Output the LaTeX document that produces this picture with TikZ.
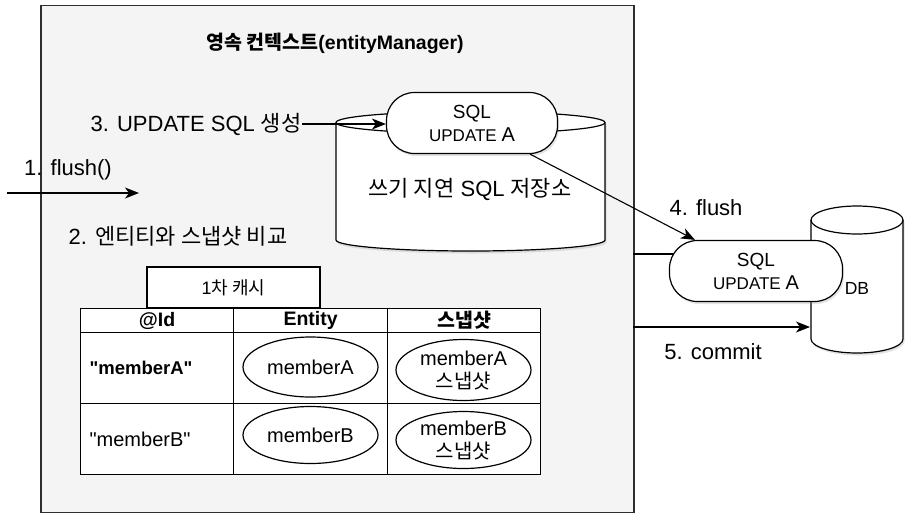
\documentclass[tikz,border=0pt]{standalone}
\usepackage{fontspec}
\setmainfont{Liberation Sans}
\newfontfamily\kr{Noto Sans CJK KR}
\newcommand\kor[1]{{\kr #1}}
\usetikzlibrary{arrows.meta,shapes.geometric,shadows}
\definecolor{bgc}{HTML}{F4F4F4}
\definecolor{framec}{HTML}{2E2E2E}
\begin{document}
\begin{tikzpicture}[x=1pt,y=-1pt,
  line width=1.1pt,
  every node/.style={inner sep=0pt},
  shade3/.style={drop shadow={shadow xshift=1.5pt,shadow yshift=-2.5pt,opacity=0.22}},
  arr/.style={-{Stealth[length=14pt,width=11pt,inset=4pt]}, line width=1.1pt},
  cell/.style={draw, fill=white, line width=1.2pt, anchor=north west, font=\fontsize{19.5}{22}\selectfont},
  idcell/.style={cell, inner xsep=9pt, text width=135pt, align=left, minimum width=153pt, minimum height=71pt},
  pill/.style={draw, fill=white, rounded corners=28pt, minimum width=171pt, minimum height=61pt, align=center, line width=1.2pt, font=\fontsize{18}{23}\selectfont, shade3},
  oval/.style={draw, ellipse, fill=white, minimum width=135pt, align=center, line width=1.2pt, font=\fontsize{20}{23}\selectfont},
  lbl/.style={font=\fontsize{22}{26}\selectfont}
]
\useasboundingbox (0,0) rectangle (910,515);
% frame
\node[draw=framec, fill=bgc, line width=1.8pt, minimum width=593pt, minimum height=507pt, anchor=north west] (frame) at (40,4.5) {};
\node[font=\fontsize{19.5}{22}\selectfont\bfseries] (title) at (335,43) {\kor{영속 컨텍스트}(entityManager)};

% write-behind SQL store (cylinder)
\draw[fill=white, line width=1.2pt, shade3] (336,122.5) -- (336,240) arc[start angle=180,end angle=360,x radius=134.5pt,y radius=11pt] -- (605,122.5) arc[start angle=0,end angle=180,x radius=134.5pt,y radius=11pt] -- cycle;
\draw[line width=1.2pt] (336,122.5) arc[start angle=180,end angle=360,x radius=134.5pt,y radius=11pt];
\node[lbl] (store) at (470,189) {\kor{쓰기 지연} SQL \kor{저장소}};
\node[pill] (pill1) at (472,123) {{\fontsize{19}{23}\selectfont SQL}\\{\fontsize{17}{23}\selectfont UPDATE \fontsize{20}{23}\selectfont A}};

% labels
\node[lbl, anchor=east] (t3) at (302,124) {3. UPDATE SQL \kor{생성}};
\draw[arr] (t3.east) -- (t3.east -| pill1.west);
\node[lbl] (t1) at (68,170) {1. flush()};
\coordinate (f1s) at (7,193);
\coordinate (f1e) at (139,193);
\draw[arr] (f1s) -- (f1e);
\node[lbl] (t2) at (178,236) {2. \kor{엔티티와 스냅샷 비교}};

% first-level cache
\node[draw, fill=white, line width=1.2pt, minimum width=173pt, minimum height=41pt, font=\fontsize{18}{20}\selectfont] (cache) at (233.5,287.5) {1\kor{차 캐시}};
\node[cell, minimum width=153pt, minimum height=24pt] (h1) at (80,308) {\bfseries @Id};
\node[cell, minimum width=154pt, minimum height=24pt] (h2) at (233,308) {\bfseries Entity};
\node[cell, minimum width=153pt, minimum height=24pt] (h3) at (387,308) {\bfseries\kor{스냅샷}};
\node[idcell, font=\fontsize{18.5}{22}\selectfont] (r1c1) at (80,332) {\bfseries\textquotedbl memberA\textquotedbl};
\node[cell, minimum width=154pt, minimum height=71pt] (r1c2) at (233,332) {};
\node[cell, minimum width=153pt, minimum height=71pt] (r1c3) at (387,332) {};
\node[idcell, font=\fontsize{20}{22}\selectfont] (r2c1) at (80,403) {\textquotedbl memberB\textquotedbl};
\node[cell, minimum width=154pt, minimum height=71pt] (r2c2) at (233,403) {};
\node[cell, minimum width=153pt, minimum height=71pt] (r2c3) at (387,403) {};
\node[oval, minimum height=60pt] (eA) at (310.5,367) {memberA};
\node[oval, minimum height=61pt] (sA) at (463.5,370) {memberA\\\kor{스냅샷}};
\node[oval, minimum height=57pt] (eB) at (310.5,435) {memberB};
\node[oval, minimum height=57pt] (sB) at (463.5,440) {memberB\\\kor{스냅샷}};

% DB
\draw[fill=white, line width=1.2pt, shade3] (811,220) -- (811,339) arc[start angle=180,end angle=360,x radius=46pt,y radius=14pt] -- (903,220) arc[start angle=0,end angle=180,x radius=46pt,y radius=14pt] -- cycle;
\draw[line width=1.2pt] (811,220) arc[start angle=180,end angle=360,x radius=46pt,y radius=14pt];
\node[font=\fontsize{17.5}{20}\selectfont] (db) at (857,288) {DB};
\coordinate (l1) at (633,254);
\coordinate (l2) at (690,254);
\draw (l1) -- (l2);
\node[pill, minimum width=173pt] (pill2) at (756,271) {{\fontsize{19}{23}\selectfont SQL}\\{\fontsize{17}{23}\selectfont UPDATE \fontsize{20}{23}\selectfont A}};
\draw[arr] ([xshift=58pt]pill1.south) -- ([xshift=-61pt]pill2.north);
\node[lbl] (t4) at (706,208) {4. flush};
\coordinate (c1) at (633,327);
\coordinate (dbw) at (810,327);
\draw[arr] (c1) -- (dbw);
\node[lbl] (t5) at (713,352) {5. commit};
\end{tikzpicture}
\end{document}
